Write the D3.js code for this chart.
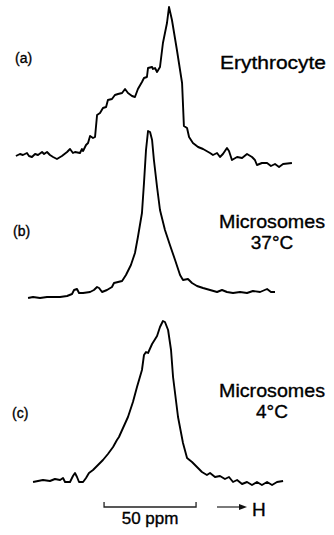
<!DOCTYPE html>
<html>
<head>
<meta charset="utf-8">
<script src="https://cdn.jsdelivr.net/npm/d3@7"></script>
<style>
  body { margin: 0; background: #fff; }
  svg { display: block; }
  text { font-family: "Liberation Sans", Arial, sans-serif; fill: #000; stroke: #000; stroke-width: 0.35px; }
</style>
</head>
<body>
<svg id="chart"></svg>
<script>
// Data: [shift (ppm), intensity (arb.)]
const panelIds = ["(a)", "(b)", "(c)"];
const sampleNames = [["Erythrocyte"], ["Microsomes", "37°C"], ["Microsomes", "4°C"]];

const erythrocyte = [
  [0.5, 2], [2.7, 4], [4.3, 3], [6.5, 5], [7.6, 2], [9.2, 1], [10.9, 4], [12.5, 3],
  [14.7, 6], [15.8, 4], [17.4, 6], [19.0, 3], [20.7, 1], [22.8, -1], [25.5, 2], [28.3, 6],
  [29.9, 9], [31.5, 5], [32.6, 6], [35.3, 5], [36.4, 9], [37.0, 7], [38.6, 13], [39.7, 15],
  [40.8, 22], [42.4, 20], [43.5, 21], [44.6, 43], [46.2, 45], [47.8, 50], [49.5, 51], [50.5, 58],
  [52.7, 59], [54.3, 63], [56.0, 64], [58.2, 65], [59.8, 69], [61.4, 65], [63.6, 62], [65.2, 61],
  [66.8, 69], [69.0, 76], [70.1, 80], [71.7, 81], [72.3, 90], [74.5, 91], [75.0, 89], [76.1, 90],
  [77.2, 86], [78.8, 91], [80.4, 115], [82.6, 135], [83.7, 151], [85.3, 138], [88.0, 108],
  [90.8, 75], [91.8, 32], [93.5, 30], [94.6, 21], [96.7, 15], [99.5, 11], [102.2, 9], [106.0, 5],
  [107.6, 3], [109.8, 5], [111.4, 1], [113.0, 4], [115.2, 10], [116.3, 7], [117.9, -2], [120.7, 1],
  [123.4, 0], [126.1, 4], [128.8, 1], [130.4, -2], [131.5, -7], [134.2, -5], [137.0, -5], [139.1, -8],
  [141.3, -6], [143.5, -9], [145.7, -6], [150.5, -5]
];

const microsomes37 = [
  [7.1, -1], [9.8, 0], [13.6, -1], [17.4, 0], [20.7, 0], [24.5, 0], [28.3, 1], [31.0, 3],
  [32.1, 7], [33.7, 8], [34.8, 4], [37.0, 4], [40.8, 5], [42.9, 7], [44.6, 10], [45.7, 9],
  [47.3, 5], [50.0, 7], [52.7, 10], [53.8, 14], [56.0, 15], [58.2, 16], [60.3, 22], [63.0, 32],
  [65.2, 44], [66.8, 60], [69.0, 84], [70.1, 114], [71.2, 147], [72.3, 166], [73.4, 165], [74.5, 157],
  [75.5, 137], [77.2, 110], [78.8, 87], [81.5, 67], [84.2, 52], [87.0, 37], [89.7, 22], [91.3, 17],
  [94.0, 18], [96.2, 14], [98.9, 11], [102.2, 9], [106.0, 7], [109.8, 5], [112.5, 7], [115.2, 5],
  [118.5, 4], [122.3, 5], [126.1, 4], [129.3, 6], [133.2, 5], [137.0, 8], [139.1, 5], [141.3, 5]
];

const microsomes4 = [
  [9.8, -1], [12.5, 0], [15.2, 1], [19.0, 0], [21.7, 2], [24.5, 1], [26.1, 3], [27.2, -1],
  [29.9, -1], [31.5, 5], [32.6, 8], [33.7, 4], [34.8, -1], [37.0, -1], [38.6, 3], [40.2, 8],
  [42.4, 11], [45.1, 16], [47.8, 21], [50.5, 27], [53.3, 34], [55.4, 41], [56.5, 44], [58.7, 53],
  [61.4, 64], [64.1, 79], [66.3, 94], [69.0, 111], [70.1, 126], [71.2, 129], [72.3, 128], [74.5, 137],
  [77.2, 145], [78.8, 154], [80.4, 160], [81.5, 159], [83.2, 151], [84.8, 131], [85.9, 104], [88.6, 64],
  [91.3, 38], [93.5, 23], [96.2, 19], [98.9, 14], [101.6, 9], [104.3, 6], [106.0, 8], [108.7, 4],
  [111.4, 5], [114.1, 2], [116.3, 4], [118.5, -1], [120.7, 1], [123.4, -3], [126.1, -1], [128.8, -4],
  [131.5, -1], [134.2, -4], [137.0, -1], [139.7, -4], [142.4, -1], [145.7, 0]
];

const spectra = [erythrocyte, microsomes37, microsomes4];
const scaleBarStart = 48.4;   // ppm
const scaleBarLength = 50;    // ppm
const scaleBarLabel = "50 ppm";
const fieldLabel = "H";

// Layout
const width = 334, height = 535;
const baselines = [158, 297, 481];
const svg = d3.select("#chart").attr("width", width).attr("height", height);

const x = d3.scaleLinear().domain([0, 150]).range([15, 291]);

const line = (yScale) => d3.line()
  .x(d => x(d[0]))
  .y(d => yScale(d[1]));

spectra.forEach((s, i) => {
  const y = d3.scaleLinear().domain([0, 160]).range([baselines[i], baselines[i] - 160]);
  svg.append("path")
    .datum(s)
    .attr("d", line(y))
    .attr("fill", "none")
    .attr("stroke", "#000")
    .attr("stroke-width", 1.9)
    .attr("stroke-linejoin", "round");
});

// Panel ids
const idPos = [[15, 63], [13, 236], [12, 418]];
svg.selectAll(".panelId")
  .data(panelIds)
  .enter()
  .append("text")
  .attr("class", "panelId")
  .attr("x", (d, i) => idPos[i][0])
  .attr("y", (d, i) => idPos[i][1])
  .style("font-size", "14px")
  .text(d => d);

// Sample names
const namePos = [[273, 69], [272, 228], [272, 397]];
sampleNames.forEach((lines, i) => {
  const t = svg.append("text")
    .attr("text-anchor", "middle")
    .style("font-size", "19px");
  lines.forEach((l, j) => {
    const ts = t.append("tspan")
      .attr("x", namePos[i][0])
      .attr("y", namePos[i][1] + j * 20.5)
      .text(l);
    if (j === 0) ts.attr("textLength", 106).attr("lengthAdjust", "spacingAndGlyphs");
  });
});

// Scale bar
const bx0 = x(scaleBarStart), bx1 = x(scaleBarStart + scaleBarLength), by = 507;
svg.append("path")
  .attr("d", `M${bx0},${by - 5}V${by}H${bx1}V${by - 5}`)
  .attr("fill", "none")
  .attr("stroke", "#222")
  .attr("stroke-width", 1.3);
svg.append("text")
  .attr("x", (bx0 + bx1) / 2)
  .attr("y", 524)
  .attr("text-anchor", "middle")
  .style("font-size", "17px")
  .text(scaleBarLabel);

// Field direction arrow
svg.append("line")
  .attr("x1", 217).attr("x2", 240)
  .attr("y1", by).attr("y2", by)
  .attr("stroke", "#222")
  .attr("stroke-width", 1.2);
svg.append("path")
  .attr("d", `M239,${by - 3}L247,${by}L239,${by + 3}Z`)
  .attr("fill", "#111");
svg.append("text")
  .attr("x", 252)
  .attr("y", 516)
  .style("font-size", "19px")
  .text(fieldLabel);
</script>
</body>
</html>
